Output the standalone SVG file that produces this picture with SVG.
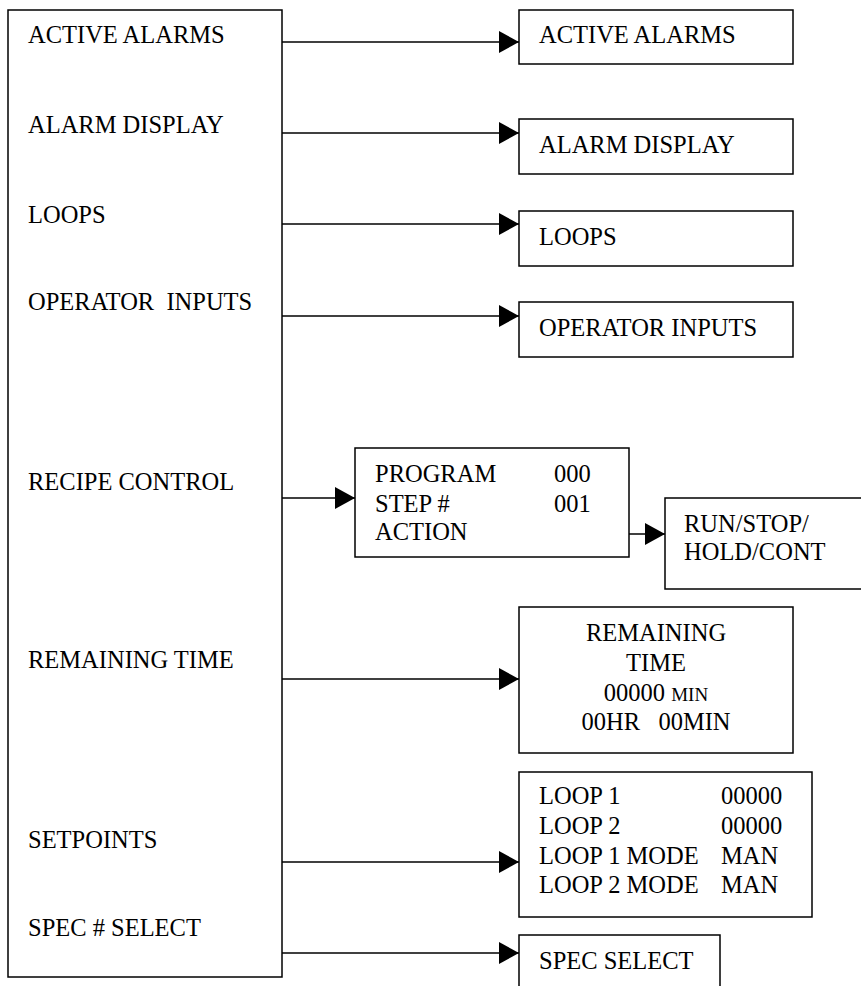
<svg xmlns="http://www.w3.org/2000/svg" width="861" height="986" viewBox="0 0 861 986">
<style>
.box{fill:#fff;stroke:#000;stroke-width:1.5}
.t{font-family:"Liberation Serif","Times New Roman",serif;font-size:24.5px;fill:#000}
.c{text-anchor:middle}
.sm{font-size:19px}
.ln{stroke:#000;stroke-width:1.5;fill:none;marker-end:url(#ah)}
</style>
<defs>
<marker id="ah" markerUnits="userSpaceOnUse" markerWidth="21" markerHeight="22" refX="20" refY="11" orient="auto">
<path d="M0,0 L20,11 L0,22 Z" fill="#000"/>
</marker>
</defs>
<rect width="861" height="986" fill="#fff"/>
<g id="connectors">
<line class="ln" x1="282" y1="42" x2="519" y2="42"/>
<line class="ln" x1="282" y1="133" x2="519" y2="133"/>
<line class="ln" x1="282" y1="224" x2="519" y2="224"/>
<line class="ln" x1="282" y1="316" x2="519" y2="316"/>
<line class="ln" x1="282" y1="498" x2="355" y2="498"/>
<line class="ln" x1="629" y1="534" x2="665" y2="534"/>
<line class="ln" x1="282" y1="679" x2="519" y2="679"/>
<line class="ln" x1="282" y1="862" x2="519" y2="862"/>
<line class="ln" x1="282" y1="953" x2="519" y2="953"/>
</g>
<g id="menu">
<rect class="box" x="8" y="10" width="274" height="967"/>
<text class="t" x="28" y="43">ACTIVE ALARMS</text>
<text class="t" x="28" y="133">ALARM DISPLAY</text>
<text class="t" x="28" y="223">LOOPS</text>
<text class="t" x="28" y="310" xml:space="preserve">OPERATOR  INPUTS</text>
<text class="t" x="28" y="490">RECIPE CONTROL</text>
<text class="t" x="28" y="668">REMAINING TIME</text>
<text class="t" x="28" y="848">SETPOINTS</text>
<text class="t" x="28" y="936">SPEC # SELECT</text>
</g>
<g id="active-alarms">
<rect class="box" x="519" y="10" width="274" height="54"/>
<text class="t" x="539" y="43">ACTIVE ALARMS</text>
</g>
<g id="alarm-display">
<rect class="box" x="519" y="119" width="274" height="55"/>
<text class="t" x="539" y="153">ALARM DISPLAY</text>
</g>
<g id="loops">
<rect class="box" x="519" y="211" width="274" height="55"/>
<text class="t" x="539" y="245">LOOPS</text>
</g>
<g id="operator-inputs">
<rect class="box" x="519" y="302" width="274" height="55"/>
<text class="t" x="539" y="336">OPERATOR INPUTS</text>
</g>
<g id="recipe">
<rect class="box" x="355" y="448" width="274" height="109"/>
<text class="t" x="375" y="482">PROGRAM</text>
<text class="t" x="554" y="482">000</text>
<text class="t" x="375" y="512">STEP #</text>
<text class="t" x="554" y="512">001</text>
<text class="t" x="375" y="540">ACTION</text>
</g>
<g id="run-stop">
<rect class="box" x="665" y="498" width="210" height="91"/>
<text class="t" x="684" y="532">RUN/STOP/</text>
<text class="t" x="684" y="560">HOLD/CONT</text>
</g>
<g id="remaining-time">
<rect class="box" x="519" y="607" width="274" height="146"/>
<text class="t c" x="656" y="641">REMAINING</text>
<text class="t c" x="656" y="671">TIME</text>
<text class="t c" x="656" y="701">00000 <tspan class="sm">MIN</tspan></text>
<text class="t c" x="656" y="730" xml:space="preserve">00HR   00MIN</text>
</g>
<g id="setpoints">
<rect class="box" x="519" y="772" width="293" height="145"/>
<text class="t" x="539" y="804">LOOP 1</text>
<text class="t" x="721" y="804">00000</text>
<text class="t" x="539" y="834">LOOP 2</text>
<text class="t" x="721" y="834">00000</text>
<text class="t" x="539" y="864">LOOP 1 MODE</text>
<text class="t" x="721" y="864">MAN</text>
<text class="t" x="539" y="893">LOOP 2 MODE</text>
<text class="t" x="721" y="893">MAN</text>
</g>
<g id="spec-select">
<rect class="box" x="519" y="935" width="201" height="70"/>
<text class="t" x="539" y="969">SPEC SELECT</text>
</g>
</svg>
